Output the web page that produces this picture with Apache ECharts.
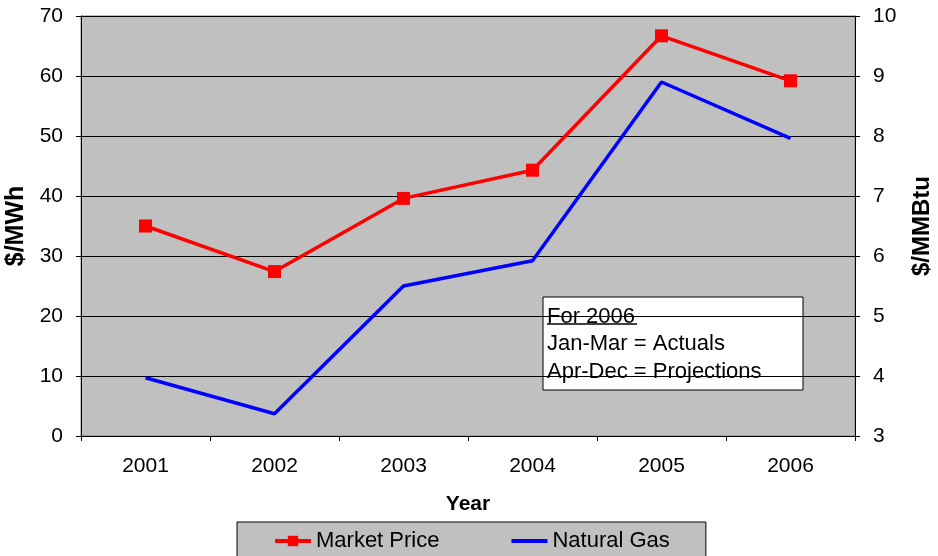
<!DOCTYPE html>
<html>
<head>
    <meta charset="utf-8">
    <script src="https://cdn.jsdelivr.net/npm/echarts@6/dist/echarts.min.js"></script>
    <style>
        html, body { margin: 0; padding: 0; background: #fff; }
        #main { width: 938px; height: 556px; }
    </style>
</head>
<body>
<div id="main"></div>
<script type="text/javascript">
    // 数据
    var years = ['2001', '2002', '2003', '2004', '2005', '2006'];
    var marketPrice = [35.0, 27.4, 39.6, 44.3, 66.7, 59.2];
    var naturalGas = [3.97, 3.37, 5.50, 5.92, 8.90, 7.96];
    var noteLines = ['For 2006', 'Jan-Mar = Actuals', 'Apr-Dec = Projections'];

    var myChart = echarts.init(document.getElementById('main'));
    var font = 'Arial, "Liberation Sans", sans-serif';

    var option = {
        backgroundColor: '#fff',
        animation: false,
        textStyle: { fontFamily: font },
        grid: {
            left: 81, right: 83, top: 16, bottom: 120,
            containLabel: false,
            outerBoundsMode: 'none',
            show: true,
            backgroundColor: '#c0c0c0',
            borderColor: '#808080',
            borderWidth: 1
        },
        legend: {
            left: 237,
            top: 522,
            padding: [8, 36, 12, 36],
            backgroundColor: '#c0c0c0',
            borderColor: '#000',
            borderWidth: 1,
            borderRadius: 0,
            itemWidth: 36,
            itemHeight: 13,
            itemGap: 70,
            lineStyle: { width: 4 },
            textStyle: { fontSize: 22, color: '#000', fontFamily: font },
            data: ['Market Price', { name: 'Natural Gas', itemStyle: { opacity: 0 } }]
        },
        xAxis: {
            type: 'category',
            data: years,
            boundaryGap: true,
            name: 'Year',
            nameLocation: 'middle',
            nameGap: 58,
            nameTextStyle: { fontSize: 21, fontWeight: 'bold', color: '#000' },
            axisLine: { lineStyle: { color: '#000', width: 1 } },
            axisTick: { show: true, length: 5, lineStyle: { color: '#000' } },
            axisLabel: { fontSize: 21, color: '#000', margin: 20 },
            splitLine: { show: false }
        },
        yAxis: [{
            type: 'value',
            min: 0, max: 70, interval: 10,
            name: '$/MWh',
            nameLocation: 'middle',
            nameGap: 50,
            nameRotate: 90,
            nameTextStyle: { fontSize: 25, fontWeight: 'bold', color: '#000' },
            axisLine: { show: true, lineStyle: { color: '#000' } },
            axisTick: { show: true, length: 5, lineStyle: { color: '#000' } },
            axisLabel: { fontSize: 21, color: '#000', margin: 18 },
            splitLine: { show: true, lineStyle: { color: '#000', width: 1 } }
        }, {
            type: 'value',
            min: 3, max: 10, interval: 1,
            name: '$/MMBtu',
            nameLocation: 'middle',
            nameGap: 55,
            nameRotate: 90,
            nameTextStyle: { fontSize: 24, fontWeight: 'bold', color: '#000' },
            axisLine: { show: true, lineStyle: { color: '#000' } },
            axisTick: { show: true, length: 5, lineStyle: { color: '#000' } },
            axisLabel: { fontSize: 21, color: '#000', margin: 18 },
            splitLine: { show: false }
        }],
        series: [{
            name: 'Market Price',
            type: 'line',
            yAxisIndex: 0,
            data: marketPrice,
            symbol: 'rect',
            symbolSize: 13,
            lineStyle: { color: '#ff0000', width: 3.5 },
            itemStyle: { color: '#ff0000' }
        }, {
            name: 'Natural Gas',
            type: 'line',
            yAxisIndex: 1,
            data: naturalGas,
            symbol: 'none',
            lineStyle: { color: '#0000ff', width: 3.5 },
            itemStyle: { color: '#0000ff' }
        }],
        graphic: [{
            // 标题大部分在画面上方，只露出底部
            type: 'text',
            x: 505,
            y: 3,
            style: {
                text: 'Annual Prices', font: 'bold 22px ' + font, fill: '#555',
                textAlign: 'center', textVerticalAlign: 'bottom'
            }
        }, {
            type: 'group',
            x: 543,
            y: 297,
            children: [{
                type: 'rect',
                shape: { x: 0, y: 0, width: 260, height: 93 },
                style: { fill: '#fff', stroke: '#000', lineWidth: 1 }
            }, {
                type: 'text',
                x: 4, y: 20,
                style: { text: noteLines[0], font: '22px ' + font, fill: '#000', textVerticalAlign: 'middle' }
            }, {
                type: 'line',
                shape: { x1: 4, y1: 27, x2: 94, y2: 27 },
                style: { stroke: '#000', lineWidth: 1.5 }
            }, {
                type: 'text',
                x: 4, y: 47,
                style: { text: noteLines[1], font: '22px ' + font, fill: '#000', textVerticalAlign: 'middle' }
            }, {
                type: 'text',
                x: 4, y: 75,
                style: { text: noteLines[2], font: '22px ' + font, fill: '#000', textVerticalAlign: 'middle' }
            }]
        }]
    };
    myChart.setOption(option);
</script>
</body>
</html>
